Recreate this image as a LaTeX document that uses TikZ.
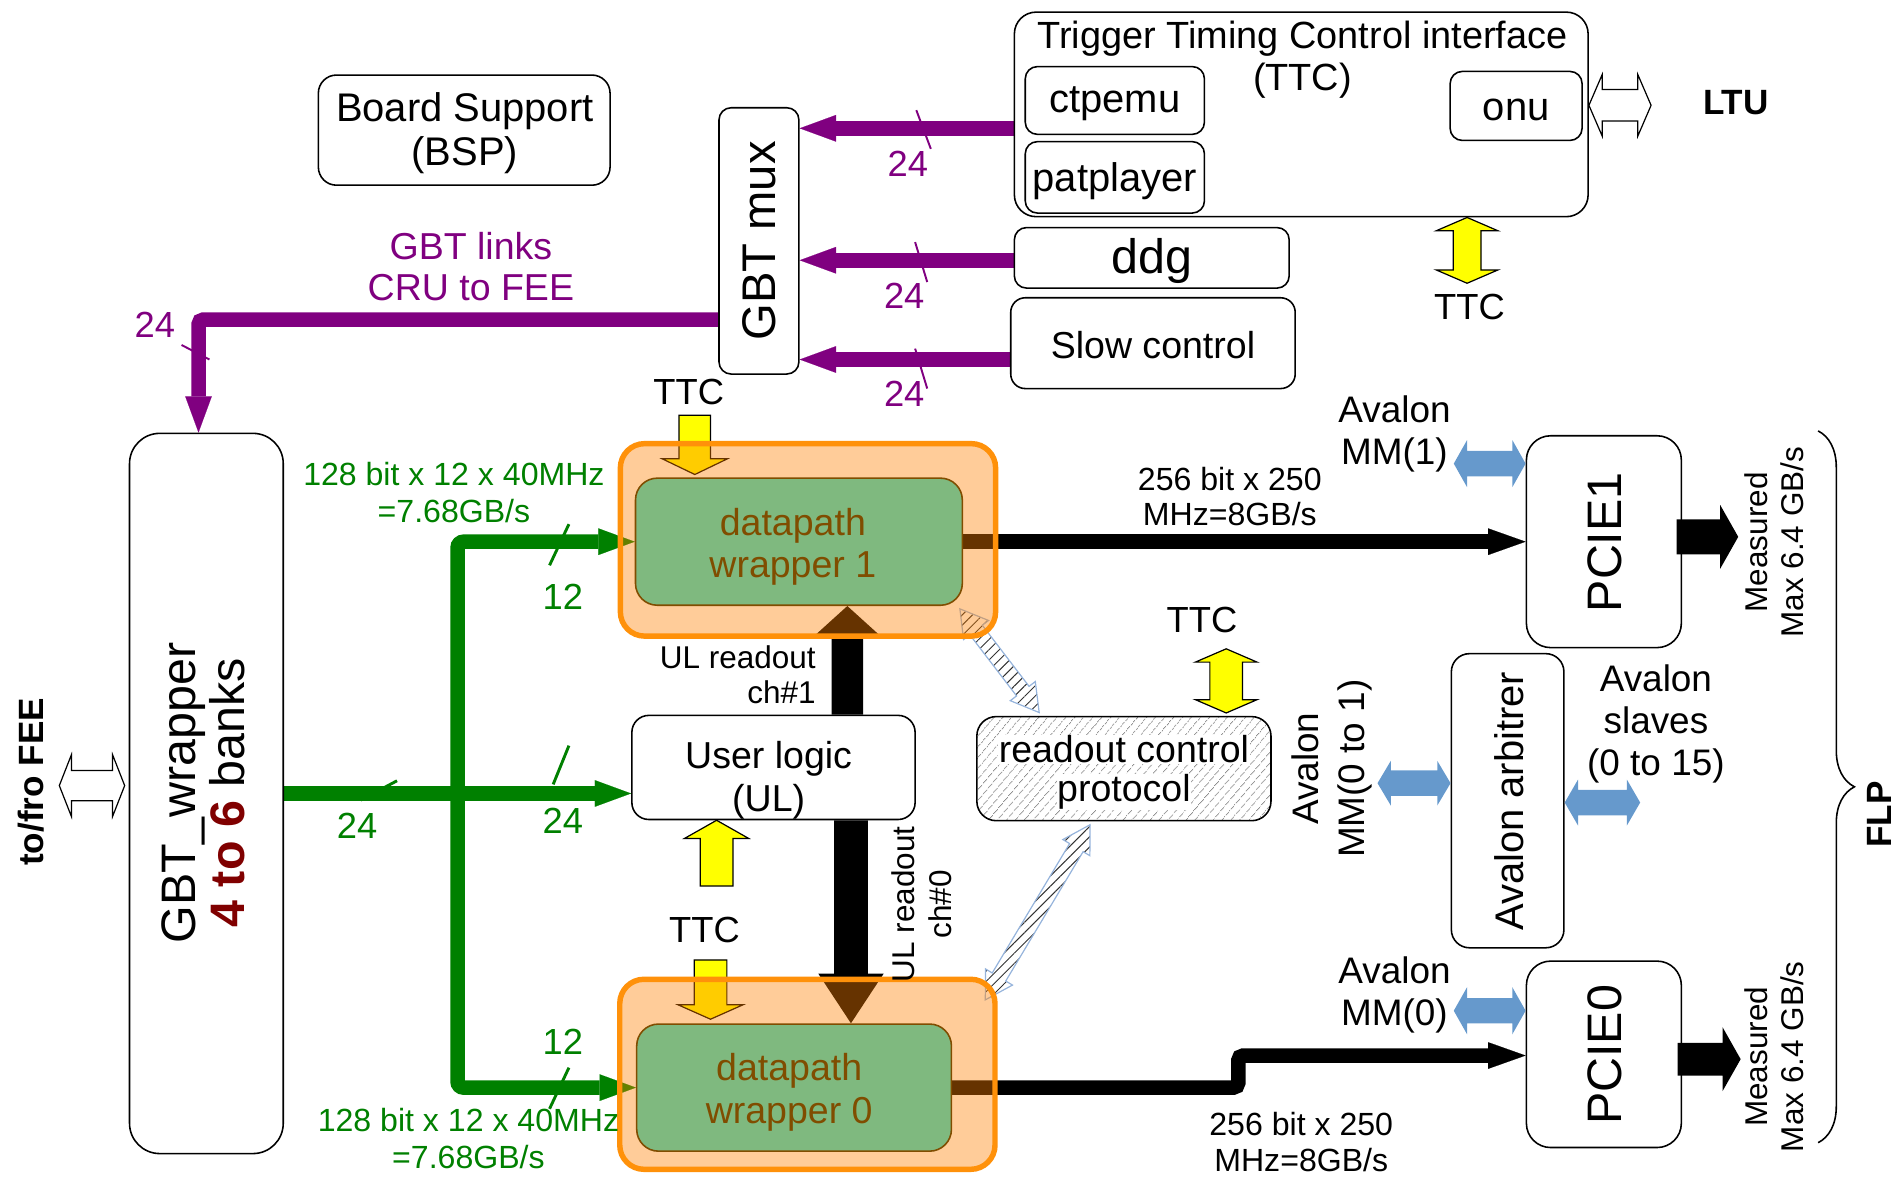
\documentclass[tikz,border=0pt]{standalone}
\usepackage{fontspec}
\setmainfont{Liberation Sans}
\usetikzlibrary{arrows.meta,calc,patterns.meta,decorations.pathreplacing}
\definecolor{gbtpurple}{RGB}{128,0,128}
\definecolor{linkgreen}{RGB}{0,128,0}
\definecolor{bankred}{RGB}{128,0,0}
\definecolor{wrapborder}{RGB}{255,145,10}
\definecolor{wrapfill}{RGB}{255,128,0}
\definecolor{dpgreen}{RGB}{127,185,127}
\definecolor{dpbrown}{RGB}{128,77,0}
\definecolor{avblue}{RGB}{102,153,204}
\definecolor{hatchblue}{RGB}{150,180,220}
\definecolor{ttcyellow}{RGB}{255,255,0}
\newcommand\fz[2]{\fontsize{#1}{#2}\selectfont}
\pgfdeclarelayer{links}
\pgfsetlayers{links,main}
% block arrow: style, tail, tip, shaft width, head width, head length
\newcommand\blockarrow[6]{%
  \path[#1] let \p1=(#2), \p2=(#3),
      \n1={atan2(\y2-\y1,\x2-\x1)}, \n2={veclen(\x2-\x1,\y2-\y1)} in
    ($(\p1)+({\n1+90}:{#4pt/2})$)
    -- ($(\p1)+(\n1:{\n2-#6pt})+({\n1+90}:{#4pt/2})$)
    -- ($(\p1)+(\n1:{\n2-#6pt})+({\n1+90}:{#5pt/2})$)
    -- (\p2)
    -- ($(\p1)+(\n1:{\n2-#6pt})+({\n1-90}:{#5pt/2})$)
    -- ($(\p1)+(\n1:{\n2-#6pt})+({\n1-90}:{#4pt/2})$)
    -- ($(\p1)+({\n1-90}:{#4pt/2})$) -- cycle;}
% double-headed block arrow: style, end A, end B, shaft width, head width, head length
\newcommand\dblockarrow[6]{%
  \path[#1] let \p1=(#2), \p2=(#3),
      \n1={atan2(\y2-\y1,\x2-\x1)}, \n2={veclen(\x2-\x1,\y2-\y1)} in
    (\p1)
    -- ($(\p1)+(\n1:{#6pt})+({\n1+90}:{#5pt/2})$)
    -- ($(\p1)+(\n1:{#6pt})+({\n1+90}:{#4pt/2})$)
    -- ($(\p1)+(\n1:{\n2-#6pt})+({\n1+90}:{#4pt/2})$)
    -- ($(\p1)+(\n1:{\n2-#6pt})+({\n1+90}:{#5pt/2})$)
    -- (\p2)
    -- ($(\p1)+(\n1:{\n2-#6pt})+({\n1-90}:{#5pt/2})$)
    -- ($(\p1)+(\n1:{\n2-#6pt})+({\n1-90}:{#4pt/2})$)
    -- ($(\p1)+(\n1:{#6pt})+({\n1-90}:{#4pt/2})$)
    -- ($(\p1)+(\n1:{#6pt})+({\n1-90}:{#5pt/2})$)
    -- cycle;}
\begin{document}
\begin{tikzpicture}[x=1pt,y=-1pt,
  box/.style={draw, line width=1.3pt, rounded corners=#1, inner sep=0pt, fill=white},
  box/.default=14pt,
  wrap/.style={draw=wrapborder, line width=4.5pt, fill=wrapfill, fill opacity=0.4,
    rounded corners=20pt, inner sep=0pt},
  dpbox/.style={draw=dpbrown, line width=1.3pt, fill=dpgreen, rounded corners=18pt, inner sep=0pt},
  dptext/.style={text=dpbrown, align=center, font=\fz{31}{35}},
  lbl/.style={align=center, inner sep=0pt},
  plink/.style={draw=gbtpurple, line width=12pt, -{Triangle[length=30pt,width=22pt,line width=0.1pt]}},
  glink/.style={draw=linkgreen, line width=12pt, -{Triangle[length=30pt,width=22pt,line width=0.1pt]}},
  blink/.style={draw=black, line width=12pt, -{Triangle[length=31pt,width=22pt,line width=0.1pt]}},
  ptick/.style={draw=gbtpurple, line width=1.6pt},
  gtick/.style={draw=linkgreen, line width=2.4pt},
  yarrow/.style={fill=ttcyellow, draw=black, line width=1pt},
  barrow/.style={fill=avblue},
  warrow/.style={fill=white, draw=black, line width=1pt},
  harrow/.style={draw=hatchblue, line width=1pt,
    pattern={Lines[angle=45,distance=6pt,line width=0.8pt]}, pattern color=black!80},
]
\useasboundingbox (0,0) rectangle (1568,972);

% ---------- blocks ----------
\node[box=15pt, minimum width=241pt, minimum height=91pt] (bsp) at (383.5,107.5) {};
\node[lbl, font=\fz{33}{37}] at (384,110) {Board Support\\(BSP)};

\node[box=10pt, minimum width=66pt, minimum height=220pt] (mux) at (627,199) {};
\node[rotate=90, font=\fz{39}{44}] at (mux) {GBT mux};

\node[box=18pt, minimum width=474pt, minimum height=169pt] (ttc) at (1075,94.5) {};
\node[lbl, font=\fz{31.3}{35}] at (1076,49.5) {Trigger Timing Control interface\\(TTC)};
\node[box=10pt, minimum width=148pt, minimum height=56pt] (ctpemu) at (921,83) {};
\node[font=\fz{33}{38}] at (921,86) {ctpemu};
\node[box=10pt, minimum width=148pt, minimum height=59pt] (patplayer) at (921,146.5) {};
\node[font=\fz{33}{38}] at (921,149.5) {patplayer};
\node[box=10pt, minimum width=109pt, minimum height=57pt] (onu) at (1252.5,87.5) {};
\node[font=\fz{33}{38}] at (1252.5,90.5) {onu};

\node[box=10pt, minimum width=227pt, minimum height=50pt] (ddg) at (951.5,213) {};
\node[font=\fz{40}{46}] at (951.5,216) {ddg};
\node[box=12pt, minimum width=235pt, minimum height=75pt] (slow) at (952.5,283.5) {};
\node[font=\fz{31}{36}] at (952.5,285) {Slow control};

\node[box=25pt, minimum width=127pt, minimum height=595pt] (gbtw) at (170.5,655.5) {};
\node[rotate=90, lbl, font=\fz{40}{40}] at (168,655)
  {GBT\_wrapper\\{\bfseries\color{bankred}4 to 6} banks};

\node[wrap, minimum width=310pt, minimum height=159pt] (dw1o) at (667.5,446) {};
\node[dpbox, minimum width=270pt, minimum height=105pt] (dw1) at (660,447.5) {};
\node[dptext] at (655,451.5) {datapath\\wrapper 1};

\node[wrap, minimum width=310pt, minimum height=157pt] (dw0o) at (667,887.5) {};
\node[dpbox, minimum width=260pt, minimum height=105pt] (dw0) at (656,898.5) {};
\node[dptext] at (652,902.5) {datapath\\wrapper 0};

\node[box=14pt, minimum width=234pt, minimum height=86pt] (ul) at (639,634) {};
\node[lbl, font=\fz{31}{35}] at (635,644.5) {User logic\\(UL)};

\node[box=16pt, minimum width=243pt, minimum height=86pt,
  pattern={Lines[angle=50,distance=6.5pt,line width=0.7pt]}, pattern color=black!45] (rcp) at (928.5,635) {};
\node[fill=white, inner sep=0.5pt, font=\fz{31}{35}] at (928.5,619) {readout control};
\node[fill=white, inner sep=0.5pt, font=\fz{31}{35}] at (928.5,654) {protocol};

\node[box=20pt, minimum width=128pt, minimum height=175pt] (pcie1) at (1325,447.5) {};
\node[rotate=90, font=\fz{40}{44}] at (1326,448) {PCIE1};
\node[box=20pt, minimum width=128pt, minimum height=154pt] (pcie0) at (1325,871) {};
\node[rotate=90, font=\fz{40}{44}] at (1326,871.5) {PCIE0};
\node[box=15pt, minimum width=93pt, minimum height=243pt] (arb) at (1245.5,661.5) {};
\node[rotate=90, font=\fz{33}{38}] at (1247,662) {Avalon arbitrer};

% ---------- links (drawn underneath the blocks) ----------
\begin{pgfonlayer}{links}
  % slow control / trigger sources into the GBT mux
  \draw[plink] (ttc.west |- 0,106) -- (mux.east |- 0,106);
  \draw[plink] (ddg.west |- 0,215) -- (mux.east |- 0,215);
  \draw[plink] (slow.west |- 0,297) -- (mux.east |- 0,297);
  \draw[plink, rounded corners=4pt] (mux.west |- 0,264) -| (gbtw.north -| 164,0);
  % GBT data into the datapath and user logic
  \coordinate (split) at (378,0 |- gbtw.east);
  \draw[glink] (gbtw.east) -- (ul.west |- gbtw.east);
  \draw[glink, rounded corners=5pt] (split) |- (dw1.west);
  \draw[glink, rounded corners=5pt] (split) |- (dw0.west);
  % datapath wrappers to the PCIe endpoints
  \draw[blink] (dw1.east) -- (pcie1.west |- dw1.east);
  \draw[blink, rounded corners=4pt] (dw0.east) -- (1023,0 |- dw0.east) -- (1023,872) -- (pcie0.west |- 0,872);
  % user logic readout channels
  \blockarrow{fill=black}{700,0 |- ul.north}{700,0 |- dw1.south}{26}{53}{24}
  \blockarrow{fill=black}{703,0 |- ul.south}{703,0 |- dw0.north}{28}{54}{41}
  % TTC into the wrappers
  \blockarrow{yarrow}{574,343}{574,392}{26}{54}{13}
  \blockarrow{yarrow}{587,793}{587,842}{27}{54}{12}
  % readout control protocol links
  \dblockarrow{harrow}{793,503}{$(rcp.north)+(-70,-3)$}{13}{26}{22}
  \dblockarrow{harrow}{$(rcp.south)+(-28,3)$}{814,826}{13}{26}{22}
\end{pgfonlayer}

% TTC into the user logic
\blockarrow{yarrow}{592,732}{592,0 |- ul.south}{27}{53}{15}
% TTC distribution
\dblockarrow{yarrow}{1212,0 |- ttc.south}{1212,234}{23}{51}{11}
\dblockarrow{yarrow}{1013,536}{1013,589}{27}{51}{11}
% Avalon buses
\dblockarrow{barrow}{1201,383}{pcie1.west |- 0,383}{21}{39}{11}
\dblockarrow{barrow}{1201,835}{pcie0.west |- 0,835}{21}{39}{11}
\dblockarrow{barrow}{1138,647}{arb.west |- 0,647}{21}{37}{11}
\dblockarrow{barrow}{arb.east |- 0,663}{1355,663}{21}{38}{11}
% external interfaces
\dblockarrow{warrow}{ttc.east |- 0,87}{1364,87}{26}{51}{11}
\dblockarrow{warrow}{49,649}{103,649}{25}{51}{10}
% PCIe to the FLP
\blockarrow{fill=black}{1385,443.5}{1436,443.5}{29}{53}{15}
\blockarrow{fill=black}{1386,875}{1438,875}{27}{53}{15}

% bus width marks
\draw[ptick] (757,91) -- (769,123);
\draw[ptick] (756,200) -- (766,233);
\draw[ptick] (756,288) -- (766,321);
\draw[ptick] (150,285) -- (173,297);
\draw[gtick] (454,467) -- (470,433);
\draw[gtick] (457,648) -- (470,616);
\draw[gtick] (298,661) -- (328,645);
\draw[gtick] (454,916) -- (470,882);

% ---------- labels ----------
\begin{scope}[every node/.style={lbl}]
\node[text=gbtpurple, font=\fz{30}{34}] at (750,135) {24};
\node[text=gbtpurple, font=\fz{30}{34}] at (747,244) {24};
\node[text=gbtpurple, font=\fz{30}{34}] at (747,325) {24};
\node[text=gbtpurple, font=\fz{30}{34}] at (128,268) {24};
\node[text=gbtpurple, font=\fz{31}{34}] at (389,220) {GBT links\\CRU to FEE};

\node[text=linkgreen, font=\fz{30}{34}] at (465,493) {12};
\node[text=linkgreen, font=\fz{30}{34}] at (465,678) {24};
\node[text=linkgreen, font=\fz{30}{34}] at (295,682) {24};
\node[text=linkgreen, font=\fz{30}{34}] at (465,861) {12};
\node[text=linkgreen, font=\fz{26.5}{30}] at (375,407) {128 bit x 12 x 40MHz\\=7.68GB/s};
\node[text=linkgreen, font=\fz{26.5}{30}] at (387,940.5) {128 bit x 12 x 40MHz\\=7.68GB/s};

\node[font=\fz{26.5}{29}] at (1016,410.5) {256 bit x 250\\MHz=8GB/s};
\node[font=\fz{26.5}{29}] at (1075,943.5) {256 bit x 250\\MHz=8GB/s};

\node[font=\fz{30}{34}] at (569,324) {TTC};
\node[font=\fz{30}{34}] at (582,768) {TTC};
\node[font=\fz{30}{34}] at (993,512) {TTC};
\node[font=\fz{30}{34}] at (1214,254) {TTC};

\node[anchor=east, align=right, font=\fz{26}{29}] at (674,557.5) {UL readout\\ch\#1};
\node[rotate=90, font=\fz{26}{31}] at (761.5,747) {UL readout\\ch\#0};

\node[font=\fz{30.5}{35}] at (1152,358.5) {Avalon\\MM(1)};
\node[font=\fz{30.5}{35}] at (1152,822) {Avalon\\MM(0)};
\node[rotate=90, font=\fz{30.5}{38}] at (1100,635) {Avalon\\MM(0 to 1)};
\node[font=\fz{30.5}{35}] at (1368,598) {Avalon\\slaves\\(0 to 15)};

\node[rotate=90, font=\fz{26}{30}] at (1466,448) {Measured\\Max 6.4 GB/s};
\node[rotate=90, font=\fz{26}{30}] at (1466,873) {Measured\\Max 6.4 GB/s};

\node[font=\bfseries\fz{29}{33}] at (1434,85) {LTU};
\node[rotate=90, font=\bfseries\fz{29}{33}] at (1553,673) {FLP};
\node[rotate=90, font=\bfseries\fz{29}{33}] at (26,646) {to/fro FEE};
\end{scope}

% FLP brace
\draw[line width=1.3pt, decorate, decoration={brace, amplitude=30pt}] (1502,356) -- (1502,944);
\end{tikzpicture}
\end{document}
